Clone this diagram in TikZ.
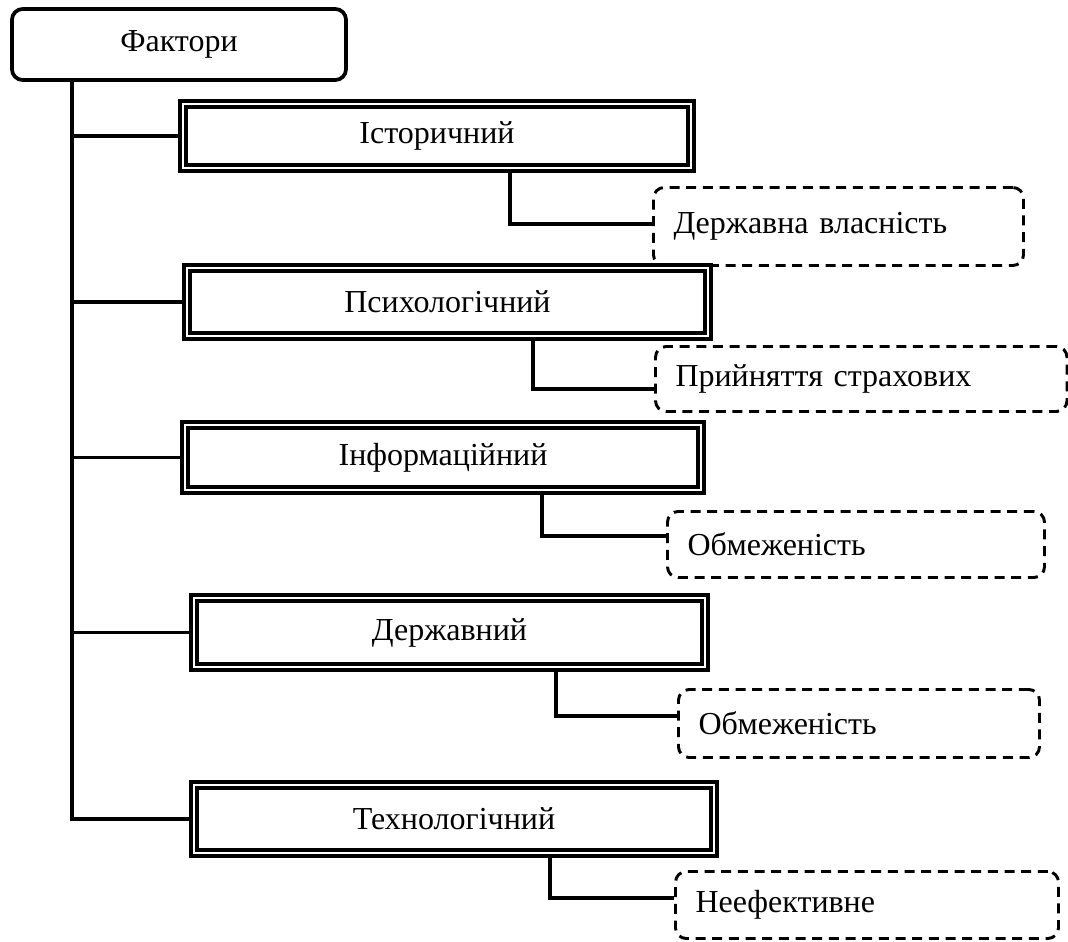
\documentclass[tikz,border=0pt]{standalone}
\usepackage{fontspec}
\setmainfont{Liberation Serif}
\usetikzlibrary{backgrounds}
\usetikzlibrary{positioning}

\tikzset{
  factorbox/.style={draw, line width=2.8pt, rounded corners=8pt, inner sep=0pt,
    minimum width=250.5pt, minimum height=53.25pt, font=\fontsize{24}{28}\selectfont},
  kindbox/.style={draw, line width=2.3pt, double, double distance=2.2pt, inner sep=0pt,
    font=\fontsize{24}{28}\selectfont},
  notebox/.style={draw, line width=2.2pt, dash pattern=on 7.5pt off 5pt, rounded corners=8pt,
    align=left, inner xsep=15pt, inner ysep=0pt, font=\fontsize{24}{28}\selectfont},
  link/.style={line width=2.6pt}
}

\begin{document}
\begin{tikzpicture}[x=0.75pt,y=-0.75pt]

\useasboundingbox (0,0) rectangle (1068,942);

% root
\node[factorbox] (factor) at (179,44.5) {Фактори};

% factors
\node[kindbox, minimum width=381pt, minimum height=48pt] (hist) at (437,136) {Історичний};
\node[kindbox, minimum width=390.75pt, minimum height=51pt] (psych) at (447.5,302) {Психологічний};
\node[kindbox, minimum width=387pt, minimum height=48.75pt] (info) at (443,457.5) {Інформаційний};
\node[kindbox, minimum width=383.25pt, minimum height=51.75pt] (state) at (449.5,632.5) {Державний};
\node[kindbox, minimum width=390pt, minimum height=51pt] (tech) at (454,819) {Технологічний};

% notes
\node[notebox, text width=247.5pt, minimum height=58.5pt] (own) at (838.5,226.5) {Державна власність};
\node[notebox, text width=278.6pt, minimum height=48.75pt] (ins) at (861.25,379) {Прийняття страхових};
\node[notebox, text width=252.75pt, minimum height=49.5pt] (lim1) at (856,544.5) {Обмеженість};
\node[notebox, text width=240.75pt, minimum height=51pt] (lim2) at (859,723.5) {Обмеженість};
\node[notebox, text width=257.25pt, minimum height=50.25pt] (ineff) at (867,905) {Неефективне};

\coordinate (trunk) at (72,0);
\coordinate (k1) at (510,224);
\coordinate (k2) at (533,389);
\coordinate (k3) at (542,536);
\coordinate (k4) at (556,716);
\coordinate (k5) at (550,898);

\begin{scope}[on background layer]
\draw[link] (factor.south -| trunk) |- (tech.west);
\foreach \k in {hist,psych,info,state}
  \draw[link] (trunk |- \k.west) -- (\k.west);

\draw[link] (hist.south -| k1) -- (k1) -- (k1 -| own.west);
\draw[link] (psych.south -| k2) -- (k2) -- (k2 -| ins.west);
\draw[link] (info.south -| k3) -- (k3) -- (k3 -| lim1.west);
\draw[link] (state.south -| k4) -- (k4) -- (k4 -| lim2.west);
\draw[link] (tech.south -| k5) -- (k5) -- (k5 -| ineff.west);
\end{scope}

\end{tikzpicture}
\end{document}
